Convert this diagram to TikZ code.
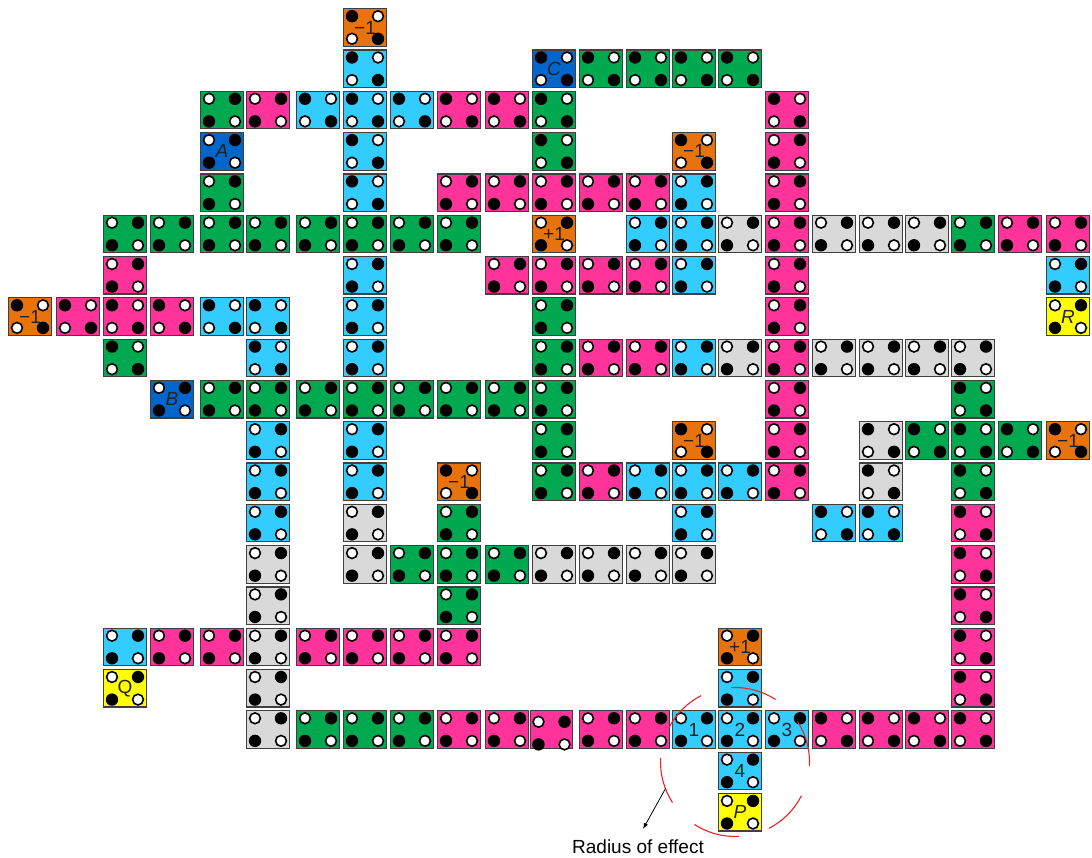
\documentclass[tikz,border=0pt]{standalone}
\usepackage{fontspec}
\setmainfont{Liberation Sans}
\usetikzlibrary{arrows.meta,calc}
\definecolor{tgreen}{RGB}{0,168,80}
\definecolor{tpink}{RGB}{255,51,153}
\definecolor{tcyan}{RGB}{51,204,255}
\definecolor{tdblue}{RGB}{0,102,204}
\definecolor{torange}{RGB}{232,114,12}
\definecolor{tyellow}{RGB}{255,255,0}
\definecolor{tgrey}{RGB}{217,217,217}
\definecolor{tedge}{RGB}{64,64,64}
\definecolor{tlabel}{RGB}{35,35,35}
\definecolor{tred}{RGB}{235,35,35}

% four spots of a tile: node, orientation (0: white top left), drop of the spots
\newcommand\drawspots[3]{%
  \ifodd#2 \def\wl{13}\def\wr{-13}\else\def\wl{-13}\def\wr{13}\fi
  \fill[black] ($(#1)+(\wr,11.3-#3)$) circle (6.2);
  \fill[black] ($(#1)+(\wl,-11.3-#3)$) circle (6.2);
  \draw[spotw] ($(#1)+(\wl,11.3-#3)$) circle (5.4);
  \draw[spotw] ($(#1)+(\wr,-11.3-#3)$) circle (5.4);
}

\begin{document}
\begin{tikzpicture}[x=1pt, y=1pt,
  tile/.style={draw=tedge, line width=1.2pt, minimum width=42.5pt, minimum height=37.5pt, inner sep=0pt},
  spotw/.style={fill=white, draw=black, line width=1.6pt},
  tilelabel/.style={font=\fontsize{19}{19}\selectfont, text=tlabel, inner sep=0pt}]
  \useasboundingbox (0,0) rectangle (1092,857);

  % grid: column centres, top row and row pitch
  \def\colx{{30,78,125,172,222,268,318,365,412,459,507,554,601,648,694,740,787,834,881,927,973,1020,1068}}
  \def\rowtop{829.5}
  \def\rowstep{41.3}

  % tiles: column/row/colour/orientation
  \foreach \c/\r/\f/\p in {
      7/0/torange/1,
      7/1/tcyan/1, 11/1/tdblue/1, 12/1/tgreen/1, 13/1/tgreen/1, 14/1/tgreen/1, 15/1/tgreen/1,
      4/2/tgreen/0, 5/2/tpink/0, 6/2/tcyan/1, 7/2/tcyan/1, 8/2/tcyan/1, 9/2/tpink/1, 10/2/tpink/1, 11/2/tgreen/1, 16/2/tpink/1,
      4/3/tdblue/0, 7/3/tcyan/1, 11/3/tgreen/1, 14/3/torange/1, 16/3/tpink/0,
      4/4/tgreen/0, 7/4/tcyan/1, 9/4/tpink/0, 10/4/tpink/0, 11/4/tpink/0, 12/4/tpink/0, 13/4/tpink/0, 14/4/tcyan/0, 16/4/tpink/0,
      2/5/tgreen/0, 3/5/tgreen/0, 4/5/tgreen/0, 5/5/tgreen/0, 6/5/tgreen/0, 7/5/tgreen/0, 8/5/tgreen/0, 9/5/tgreen/0,
      11/5/torange/0, 13/5/tcyan/0, 14/5/tcyan/0, 15/5/tgrey/0, 16/5/tpink/0, 17/5/tgrey/0, 18/5/tgrey/0, 19/5/tgrey/0,
      20/5/tgreen/0, 21/5/tpink/0, 22/5/tpink/0,
      2/6/tpink/0, 7/6/tcyan/0, 10/6/tpink/0, 11/6/tpink/0, 12/6/tpink/0, 13/6/tpink/0, 14/6/tcyan/0, 16/6/tpink/0, 22/6/tcyan/0,
      0/7/torange/1, 1/7/tpink/1, 2/7/tpink/1, 3/7/tpink/1, 4/7/tcyan/1, 5/7/tcyan/1, 7/7/tcyan/0, 11/7/tgreen/0, 16/7/tpink/0, 22/7/tyellow/0,
      2/8/tgreen/1, 5/8/tcyan/1, 7/8/tcyan/0, 11/8/tgreen/0, 12/8/tpink/0, 13/8/tpink/0, 14/8/tcyan/0, 15/8/tgrey/0, 16/8/tpink/0,
      17/8/tgrey/0, 18/8/tgrey/0, 19/8/tgrey/0, 20/8/tgrey/0,
      3/9/tdblue/0, 4/9/tgreen/0, 5/9/tgreen/0, 6/9/tgreen/0, 7/9/tgreen/0, 8/9/tgreen/0, 9/9/tgreen/0, 10/9/tgreen/0, 11/9/tgreen/0,
      16/9/tpink/0, 20/9/tgreen/1,
      5/10/tcyan/0, 7/10/tcyan/0, 11/10/tgreen/0, 14/10/torange/1, 16/10/tpink/0, 18/10/tgrey/1, 19/10/tgreen/1, 20/10/tgreen/1,
      21/10/tgreen/1, 22/10/torange/1,
      5/11/tcyan/0, 7/11/tcyan/0, 9/11/torange/1, 11/11/tgreen/0, 12/11/tpink/0, 13/11/tcyan/0, 14/11/tcyan/0, 15/11/tcyan/0,
      16/11/tpink/0, 18/11/tgrey/1, 20/11/tgreen/1,
      5/12/tcyan/0, 7/12/tgrey/0, 9/12/tgreen/0, 14/12/tcyan/0, 17/12/tcyan/1, 18/12/tcyan/1, 20/12/tpink/1,
      5/13/tgrey/0, 7/13/tgrey/0, 8/13/tgreen/0, 9/13/tgreen/0, 10/13/tgreen/0, 11/13/tgrey/0, 12/13/tgrey/0, 13/13/tgrey/0,
      14/13/tgrey/0, 20/13/tpink/1,
      5/14/tgrey/0, 9/14/tgreen/0, 20/14/tpink/1,
      2/15/tcyan/0, 3/15/tpink/0, 4/15/tpink/0, 5/15/tgrey/0, 6/15/tpink/0, 7/15/tpink/0, 8/15/tpink/0, 9/15/tpink/0,
      15/15/torange/0, 20/15/tpink/1,
      2/16/tyellow/0, 5/16/tgrey/0, 15/16/tcyan/0, 20/16/tpink/1,
      5/17/tgrey/0, 6/17/tgreen/0, 7/17/tgreen/0, 8/17/tgreen/0, 9/17/tpink/0, 10/17/tpink/0, 12/17/tpink/0, 13/17/tpink/0,
      14/17/tcyan/0, 15/17/tcyan/0, 16/17/tcyan/0, 17/17/tpink/1, 18/17/tpink/1, 19/17/tpink/1, 20/17/tpink/1,
      15/18/tcyan/0,
      15/19/tyellow/0} {
    \pgfmathsetmacro\tx{\colx[\c]}
    \pgfmathsetmacro\ty{\rowtop-\r*\rowstep}
    \node[tile, fill=\f] (t\c-\r) at (\tx,\ty) {};
    \drawspots{t\c-\r}{\p}{0}
  }

  % this one has its spots set a little low
  \pgfmathsetmacro\tx{\colx[11]-2.5}
  \node[tile, fill=tpink] (t11-17) at (\tx,\rowtop-17*\rowstep) {};
  \drawspots{t11-17}{0}{3.5}

  % labels on tiles
  \foreach \n/\t in {t7-0/−1, t11-1/\textit{C}, t4-3/\textit{A}, t14-3/−1, t11-5/+1, t0-7/−1, t22-7/\textit{R},
      t3-9/\textit{B}, t14-10/−1, t22-10/−1, t9-11/−1, t15-15/+1, t2-16/Q, t14-17/1, t15-17/2, t16-17/3,
      t15-18/4, t15-19/\textit{P}} {
    \node[tilelabel] (l-\n) at (\n) {\t};
  }

  % radius of effect
  \coordinate (ctr) at (735,95);
  \def\effR{74.5}
  \foreach \a in {0,60,...,300} {
    \draw[tred, line width=1.1pt] ($(ctr)+(\a-3:\effR)$) arc[start angle=\a-3, end angle=\a+33, radius=\effR];
  }
  \coordinate (reach) at ($(ctr)+(201:\effR)$);
  \coordinate (tip) at (643,28);
  \node[font=\fontsize{19}{19}\selectfont, inner sep=0pt] (effect) at (638,10) {Radius of effect};
  \draw[-{Latex[length=6pt,width=4.5pt]}, line width=0.8pt] (reach) -- (tip);
\end{tikzpicture}
\end{document}
